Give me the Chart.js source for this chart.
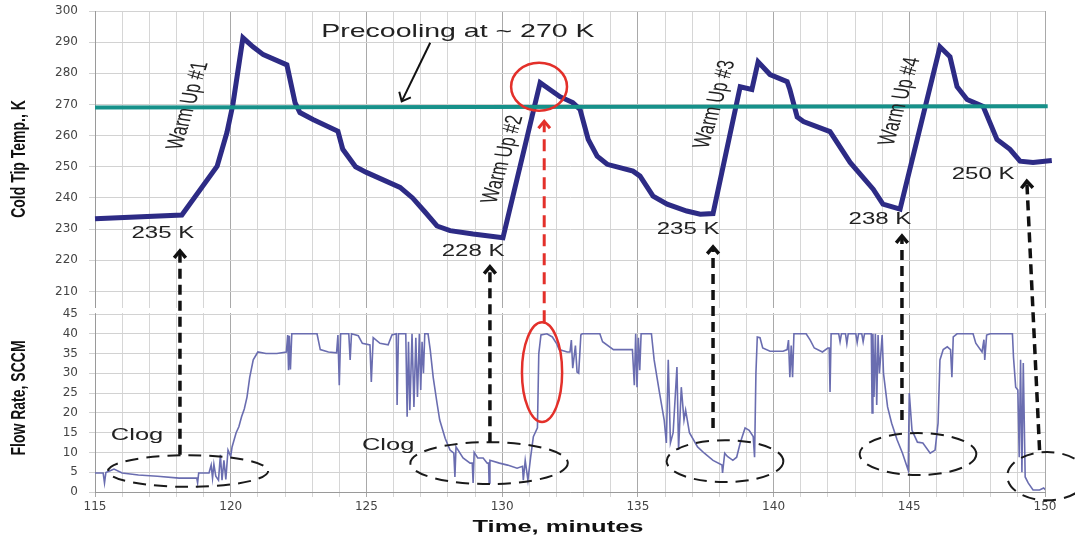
<!DOCTYPE html>
<html lang="en">
<head>
<meta charset="UTF-8">
<title>Cold Tip Temperature and Flow Rate</title>
<script src="https://cdn.jsdelivr.net/npm/chart.js"></script>
<style>
  html, body { margin: 0; padding: 0; background: #fff; }
  #chart { display: block; }
</style>
</head>
<body>
<canvas id="chart" width="1075" height="540"></canvas>
<script>
// cold tip temperature (K) vs time (min)
const tempTime = [115, 118.2, 119.5, 119.86, 120.08, 120.45, 120.82, 121.2, 122.07, 122.37, 122.55, 123.03,
  123.95, 124.13, 124.6, 125.0, 126.24, 126.7, 127.16, 127.6, 128.08, 128.93, 130.03, 131.4, 132.13, 132.6,
  132.87, 133.17, 133.5, 133.87, 134.82, 135.08, 135.56, 136.08, 136.8, 137.3, 137.77, 138.77, 139.2, 139.43,
  139.87, 140.5, 140.6, 140.87, 141.1, 142.08, 142.82, 143.67, 144.03, 144.66, 146.13, 146.5, 146.76, 147.13,
  147.72, 148.23, 148.71, 149.08, 149.56, 150.25];
const tempK = [233.3, 234.5, 250.2, 261, 270, 291.4, 288.5, 286, 282.7, 270.6, 267.4, 265.2,
  261.4, 255.6, 250, 248.2, 243.4, 240, 235.5, 231, 229.5, 228.4, 227.2, 277, 272.5, 270.6,
  268.4, 258.8, 253.4, 250.8, 248.6, 247, 240.6, 238, 235.8, 234.8, 235, 275.7, 274.8, 283.7,
  279.6, 277.3, 274.8, 266, 264.5, 261.3, 251.4, 242.8, 238, 236.4, 288.5, 285.3, 275.7, 271.6,
  269.4, 258.8, 255.6, 251.8, 251.4, 252];
const tempTicks = [210, 220, 230, 240, 250, 260, 270, 280, 290, 300];

// precooling setpoint line
const precoolTime = [115, 150.1];
const precoolK = [269, 269.4];

// flow rate (SCCM) vs time (min)
const flowTime = [115.0, 115.3, 115.35, 115.4, 115.6, 115.7, 116.0, 116.6, 117.3, 118.1, 118.75, 118.78, 118.82,
  119.2, 119.28, 119.33, 119.38, 119.45, 119.55, 119.62, 119.68, 119.75, 119.82, 119.9, 120.0, 120.05, 120.2,
  120.3, 120.4, 120.5, 120.6, 120.7, 120.83, 121.0, 121.3, 121.7, 122.05, 122.1, 122.13, 122.16, 122.2, 122.25,
  123.18, 123.3, 123.6, 123.9, 123.95, 124.0, 124.05, 124.35, 124.4, 124.45, 124.7, 124.85, 125.13, 125.18,
  125.25, 125.5, 125.8, 125.94, 126.1, 126.13, 126.18, 126.45, 126.5, 126.55, 126.6, 126.68, 126.75, 126.82,
  126.88, 126.95, 127.0, 127.05, 127.1, 127.15, 127.27, 127.35, 127.46, 127.6, 127.7, 127.9, 128.08, 128.22,
  128.26, 128.3, 128.56, 128.82, 128.9, 128.93, 128.97, 129.1, 129.3, 129.45, 129.5, 129.52, 129.55, 129.9,
  130.2, 130.55, 130.75, 130.78, 130.85, 130.95, 131.05, 131.15, 131.3, 131.35, 131.43, 131.65, 131.85, 132.0,
  132.1, 132.4, 132.5, 132.55, 132.6, 132.7, 132.76, 132.82, 132.9, 132.95, 133.6, 133.7, 134.1, 134.35, 134.8,
  134.87, 134.92, 134.97, 135.02, 135.07, 135.12, 135.5, 135.6, 135.8, 135.97, 136.05, 136.12, 136.2, 136.3,
  136.44, 136.5, 136.6, 136.7, 136.76, 136.9, 137.2, 137.45, 137.77, 138.1, 138.12, 138.2, 138.3, 138.5,
  138.64, 138.77, 138.95, 139.1, 139.25, 139.3, 139.35, 139.4, 139.5, 139.6, 139.87, 140.35, 140.5, 140.55,
  140.6, 140.65, 140.7, 140.75, 141.2, 141.35, 141.5, 141.8, 142.0, 142.05, 142.08, 142.12, 142.4, 142.45,
  142.5, 142.65, 142.7, 142.75, 143.03, 143.08, 143.13, 143.25, 143.3, 143.35, 143.6, 143.63, 143.66, 143.7,
  143.75, 143.8, 143.85, 143.9, 144.0, 144.05, 144.2, 144.35, 144.55, 144.75, 144.96, 145.0, 145.1, 145.3,
  145.5, 145.77, 145.95, 146.06, 146.13, 146.25, 146.4, 146.52, 146.57, 146.62, 146.76, 147.35, 147.45,
  147.68, 147.75, 147.78, 147.85, 147.98, 148.8, 148.84, 148.92, 149.0, 149.05, 149.1, 149.15, 149.2, 149.27,
  149.38, 149.56, 149.8, 149.95, 150.05];
const flowRate = [4.8, 4.8, 2.3, 4.9, 5.5, 5.8, 4.8, 4.3, 4.0, 3.5, 3.5, 2.3, 4.8,
  4.8, 6.8, 3.5, 7.0, 4.0, 3.0, 9.4, 3.0, 8.0, 3.2, 10.6, 9.0, 11.4, 15.0,
  16.5, 19.0, 21.0, 24.0, 29.0, 33.4, 35.4, 35.0, 35.0, 35.4, 39.7, 30.8, 39.5, 31, 40,
  40, 36.0, 35.4, 35.2, 39.7, 27.0, 40, 40, 33.4, 40, 39.5, 37.6, 37.2, 27.8,
  39.0, 37.6, 37.2, 39.7, 40, 22, 40, 40, 19, 38, 20.7, 40, 21.5, 39,
  24, 40, 25.8, 38, 30, 40, 40, 36, 29, 22.5, 18.2, 13.6, 10.6, 9.8,
  3.8, 11.4, 8.6, 7.3, 7.3, 2.3, 10.0, 8.6, 8.6, 7.3, 7.3, 2.3, 8.0, 7.3,
  6.8, 6.0, 6.5, 3.0, 8.0, 3.0, 8.8, 14.0, 16.2, 35.0, 39.7, 40.0, 39.2, 37.6,
  36.0, 35.4, 35.4, 38.4, 31.3, 37, 30.3, 30, 39.7, 40, 40, 38.0, 36.0, 36.0, 36.0,
  27.0, 40, 26.5, 39, 30.8, 40, 40, 33.4, 25.0, 18.2, 12.4, 33.4, 12.4, 15,
  31.6, 10.6, 26.5, 18.2, 20.7, 15.0, 11.4, 9.8, 8.0, 6.8, 4.8, 9.8, 9.0, 8.0,
  8.8, 12.4, 16.2, 15.6, 14.0, 8.8, 30, 39.2, 39, 36.4, 35.6, 35.6, 36, 38.4,
  29, 37, 29, 40, 40, 38.4, 36.4, 35.4, 36.4, 36.4, 25.3, 40, 40, 38,
  40, 40, 37.5, 40, 40, 37.8, 40, 40, 38, 40, 40, 20, 40, 24,
  40, 22, 39.7, 30, 39.7, 30, 21.5, 17.4, 13.2, 9.8, 5.5, 25.0, 15.6, 12.6,
  12.4, 9.8, 10.6, 17.4, 33.4, 36.0, 36.7, 36, 29.0, 39.2, 40, 40, 37.6,
  35.4, 38.5, 33.4, 39.7, 40, 40, 34, 26.5, 25.8, 8.8, 33.4, 5, 32.6, 3.8,
  2.3, 0.5, 0.5, 1.0, 0.3];

// callouts on the temperature panel
const tempNotes = ['235 K', '228 K', '235 K', '238 K', '250 K'];
const tempNoteTime = [117.5, 128.93, 136.85, 143.92, 147.72];
const tempNoteK = [228.4, 222.7, 230, 233.2, 247.6];
const warmNotes = ['Warm Up #1', 'Warm Up #2', 'Warm Up #3', 'Warm Up #4'];
const warmNoteTime = [118.43, 130.03, 137.84, 144.66];
const warmNoteK = [269.6, 252.4, 270, 271];

// clog regions on the flow panel and the arrows tying them to the temperature minima
const clogTime = [118.43, 129.52, 138.21, 145.32, 150.08];
const clogFlow = [5.3, 7.3, 7.8, 9.6, 4.0];
const clogHalfWidth = [2.95, 2.9, 2.15, 2.15, 1.47];
const clogHalfHeight = [4.0, 5.3, 5.3, 5.3, 6.1];
const linkTimeTop = [118.13, 129.55, 137.77, 144.73, 149.33];
const linkTipK = [223, 217.9, 224.3, 227.8, 245.4];
const linkTimeBottom = [118.13, 129.55, 137.77, 144.73, 149.8];
const linkBaseFlow = [9.4, 12.6, 16.2, 18.2, 10.6];

const SX = 1.5; // horizontal stretch for drawn text
const FONT = '"Liberation Sans", Arial, sans-serif';

function stretchedText(ctx, text, x, y, font, angle) {
  ctx.save();
  ctx.translate(x, y);
  ctx.scale(SX, 1);
  if (angle) ctx.rotate(angle);
  ctx.font = font;
  ctx.textAlign = 'center';
  ctx.textBaseline = 'middle';
  ctx.fillText(text, 0, 0);
  ctx.restore();
}

function chevron(ctx, x, y, angle, len) {
  // open arrow head pointing along angle
  ctx.save();
  ctx.setLineDash([]);
  ctx.beginPath();
  ctx.moveTo(x + len * Math.cos(angle + Math.PI - 0.7), y + len * Math.sin(angle + Math.PI - 0.7));
  ctx.lineTo(x, y);
  ctx.lineTo(x + len * Math.cos(angle + Math.PI + 0.7), y + len * Math.sin(angle + Math.PI + 0.7));
  ctx.stroke();
  ctx.restore();
}

function dashedArrow(ctx, x0, y0, x1, y1, dash) {
  const a = Math.atan2(y1 - y0, x1 - x0);
  ctx.save();
  ctx.setLineDash(dash);
  ctx.beginPath();
  ctx.moveTo(x0, y0);
  ctx.lineTo(x1 - 2 * Math.cos(a), y1 - 2 * Math.sin(a));
  ctx.stroke();
  ctx.restore();
  chevron(ctx, x1, y1, a, 9);
}

const notesPlugin = {
  id: 'notes',
  beforeDatasetsDraw(chart) {
    // blank strip separating the two panels
    const { ctx, chartArea, scales } = chart;
    ctx.save();
    ctx.fillStyle = '#fff';
    ctx.fillRect(chartArea.left - 10, scales.yT.bottom + 1, chartArea.right - chartArea.left + 12,
      scales.yF.top - scales.yT.bottom - 2);
    ctx.restore();
  },
  afterDatasetsDraw(chart) {
    const { ctx, scales, chartArea } = chart;
    const x = v => scales.x.getPixelForValue(v);
    const yT = v => scales.yT.getPixelForValue(v);
    const yF = v => scales.yF.getPixelForValue(v);
    const plain = size => size + 'px ' + FONT;
    const bold = size => 'bold ' + size + 'px ' + FONT;

    ctx.save();
    ctx.fillStyle = '#111';
    // axis titles
    stretchedText(ctx, 'Cold Tip Temp., K', 19, (scales.yT.top + scales.yT.bottom) / 2, bold(14), -Math.PI / 2);
    stretchedText(ctx, 'Flow Rate, SCCM', 19, (scales.yF.top + scales.yF.bottom) / 2 - 5, bold(14), -Math.PI / 2);
    stretchedText(ctx, 'Time, minutes', (chartArea.left + chartArea.right) / 2 - 12, 527, bold(17));

    ctx.fillStyle = '#222';
    // precooling label and arrow
    stretchedText(ctx, 'Precooling at ~ 270 K', x(128.37), yT(293.3), plain(19));
    warmNotes.forEach((t, i) => stretchedText(ctx, t, x(warmNoteTime[i]), yT(warmNoteK[i]), plain(16), -78.5 * Math.PI / 180));
    tempNotes.forEach((t, i) => stretchedText(ctx, t, x(tempNoteTime[i]), yT(tempNoteK[i]), plain(16)));
    stretchedText(ctx, 'Clog', x(116.55), yF(14.4), plain(17));
    stretchedText(ctx, 'Clog', x(125.8), yF(11.9), plain(17));
    ctx.restore();

    ctx.save();
    ctx.strokeStyle = '#111';
    ctx.lineWidth = 2;
    ctx.beginPath();
    ctx.moveTo(x(127.35), yT(289.8));
    ctx.lineTo(x(126.3), yT(271));
    ctx.stroke();
    chevron(ctx, x(126.3), yT(271), Math.atan2(yT(271) - yT(289.8), x(126.3) - x(127.35)), 10);
    ctx.restore();

    // clog ellipses
    ctx.save();
    ctx.strokeStyle = '#1a1a1a';
    ctx.lineWidth = 2;
    ctx.setLineDash([13, 8]);
    clogTime.forEach((t, i) => {
      const cx = x(t), cy = yF(clogFlow[i]);
      const rx = x(t + clogHalfWidth[i]) - cx, ry = cy - yF(clogFlow[i] + clogHalfHeight[i]);
      ctx.beginPath();
      ctx.ellipse(cx, cy, rx, ry, 0, 0, Math.PI * 2);
      ctx.stroke();
    });
    ctx.restore();

    // links from clogs up to the temperature minima
    ctx.save();
    ctx.strokeStyle = '#111';
    ctx.lineWidth = 3.5;
    linkTimeTop.forEach((t, i) => {
      dashedArrow(ctx, x(linkTimeBottom[i]), yF(linkBaseFlow[i]), x(t), yT(linkTipK[i]), [10, 6]);
    });
    ctx.restore();

    // red highlight of the flow surge and the temperature peak
    ctx.save();
    ctx.strokeStyle = '#e3302a';
    ctx.lineWidth = 2.5;
    ctx.beginPath();
    ctx.ellipse(x(131.36), yT(275.7), x(132.39) - x(131.36), yT(275.7) - yT(283.4), 0, 0, Math.PI * 2);
    ctx.stroke();
    ctx.beginPath();
    ctx.ellipse(x(131.47), yF(30.3), x(132.21) - x(131.47), yF(30.3) - yF(42.9), 0, 0, Math.PI * 2);
    ctx.stroke();
    ctx.lineWidth = 3;
    dashedArrow(ctx, x(131.55), yF(42.9), x(131.55), yT(264.6), [12, 7]);
    ctx.restore();
  }
};

const gridMinor = '#d6d6d6';
const gridMajor = '#a9a9a9';
const tickFont = { family: '"DejaVu Sans", Verdana, sans-serif', size: 12 };

// fixed axis width, and no extra room reserved for the end labels
function fitLeft(s) {
  s.width = 95;
  s.paddingTop = 0;
  s.paddingBottom = 0;
}

new Chart(document.getElementById('chart'), {
  type: 'line',
  data: {
    datasets: [
      {
        label: 'Precooling',
        data: precoolTime.map((t, i) => ({ x: t, y: precoolK[i] })),
        yAxisID: 'yT',
        borderColor: '#16918a',
        borderWidth: 4,
        pointRadius: 0,
        clip: false,
        order: 0
      },
      {
        label: 'Cold Tip Temp.',
        data: tempTime.map((t, i) => ({ x: t, y: tempK[i] })),
        yAxisID: 'yT',
        borderColor: '#2d2b85',
        borderWidth: 5,
        pointRadius: 0,
        clip: false,
        order: 1
      },
      {
        label: 'Flow Rate',
        data: flowTime.map((t, i) => ({ x: t, y: flowRate[i] })),
        yAxisID: 'yF',
        borderColor: '#6a6db0',
        borderWidth: 1.6,
        pointRadius: 0,
        order: 2
      }
    ]
  },
  options: {
    responsive: false,
    animation: false,
    events: [],
    layout: { padding: { top: 11, right: 30, left: 0, bottom: 0 } },
    plugins: { legend: { display: false }, tooltip: { enabled: false } },
    scales: {
      x: {
        type: 'linear',
        min: 115,
        max: 150,
        afterFit: s => { s.height = 48; },
        ticks: {
          stepSize: 1,
          autoSkip: false,
          maxRotation: 0,
          padding: 3,
          color: '#444',
          font: tickFont,
          callback: v => (v % 5 === 0 ? v : '')
        },
        grid: {
          color: c => (c.tick && c.tick.value % 5 === 0 ? gridMajor : gridMinor),
          tickLength: 5
        },
        border: { color: '#9a9a9a' }
      },
      yF: {
        type: 'linear',
        position: 'left',
        stack: 'panels',
        stackWeight: 178,
        min: 0,
        max: 45,
        afterFit: fitLeft,
        ticks: { stepSize: 5, autoSkip: false, padding: 11, color: '#444', font: tickFont },
        grid: { color: '#d2d2d2', tickLength: 6 },
        border: { color: '#9a9a9a' }
      },
      gap: {
        type: 'linear',
        position: 'left',
        stack: 'panels',
        stackWeight: 7,
        display: false
      },
      yT: {
        type: 'linear',
        position: 'left',
        stack: 'panels',
        stackWeight: 296,
        min: 205,
        max: 300,
        afterFit: fitLeft,
        afterBuildTicks: s => { s.ticks = tempTicks.map(v => ({ value: v })); },
        ticks: { autoSkip: false, padding: 11, color: '#444', font: tickFont },
        grid: { color: '#d2d2d2', tickLength: 6 },
        border: { color: '#9a9a9a' }
      }
    }
  },
  plugins: [notesPlugin]
});
</script>
</body>
</html>
